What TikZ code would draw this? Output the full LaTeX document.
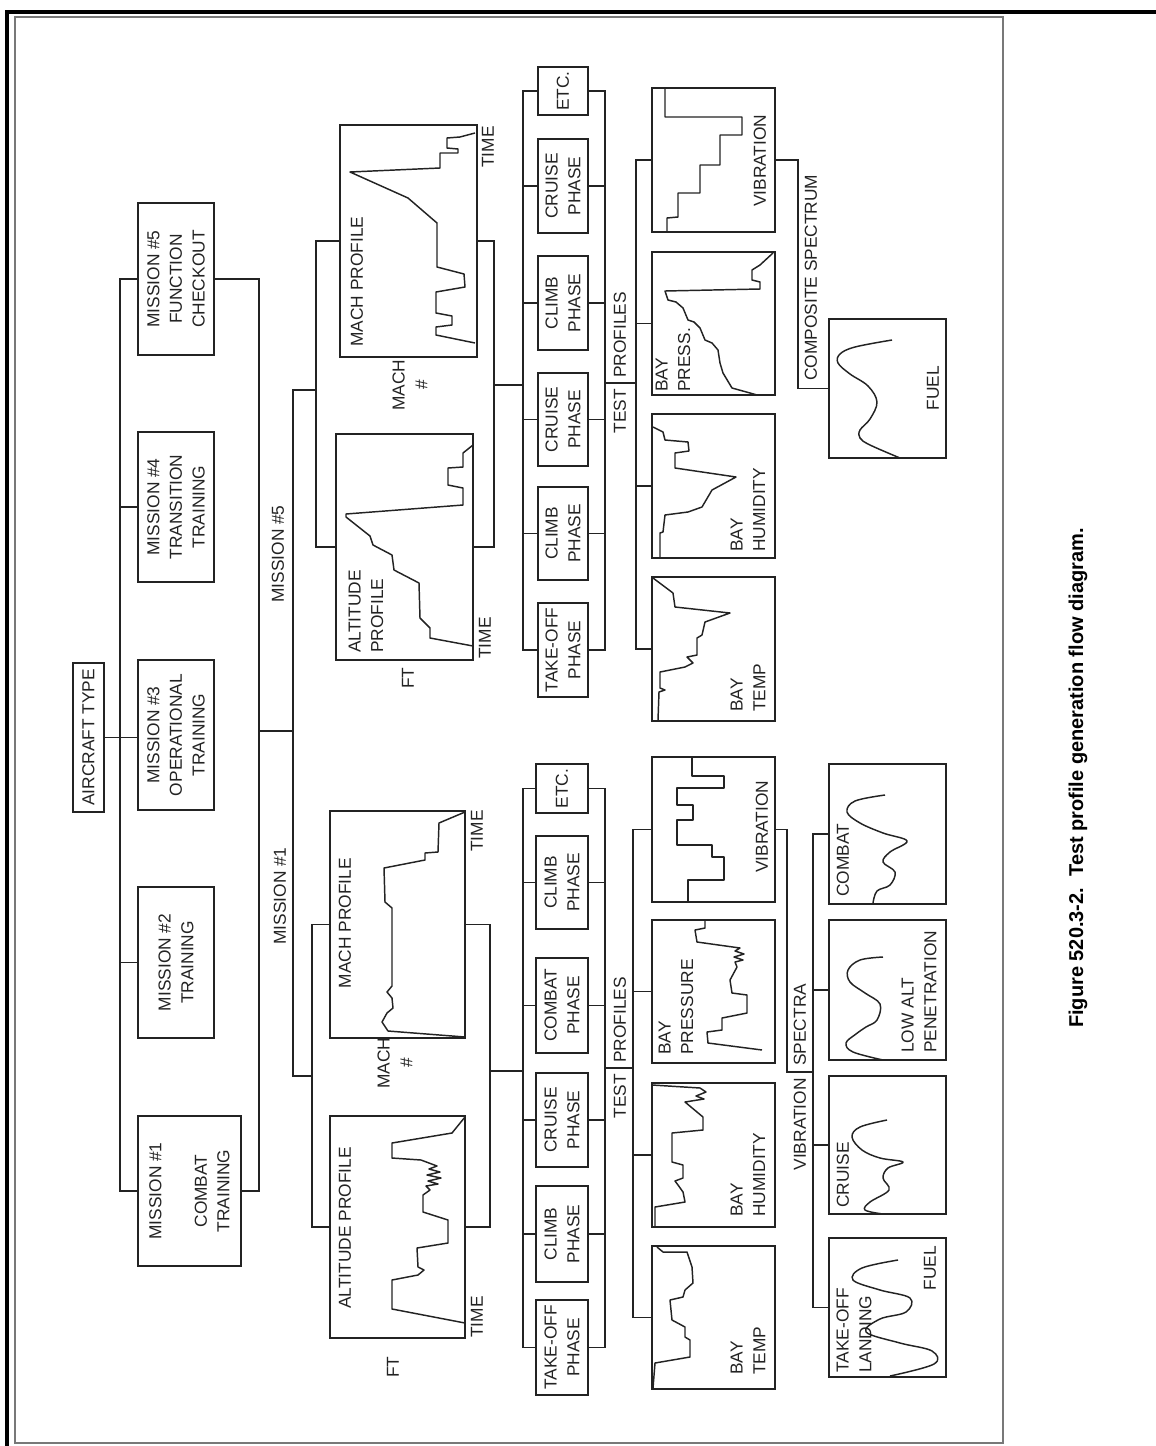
\documentclass[tikz,border=0pt]{standalone}
\usepackage{fontspec}
\setmainfont{Liberation Sans}
\usetikzlibrary{fit,calc,positioning}
\definecolor{inkgray}{RGB}{35,35,35}
\definecolor{framegray}{RGB}{120,120,120}

\begin{document}
\begin{tikzpicture}[x=0.75pt, y=-0.75pt, font=\fontsize{13}{17}\selectfont,
  blk/.style={draw=inkgray, line width=1.4pt, inner sep=0pt},
  txt/.style={rotate=90, inner sep=0pt, align=center, text=inkgray},
  wire/.style={draw=inkgray, line width=1.2pt},
  trace/.style={draw=inkgray, line width=1.1pt, line join=round}]
\useasboundingbox (0,0) rectangle (1156,1446);
% page frame
\draw[line width=3.5pt] (1156,12) -- (7,12) -- (7,1446);
\draw[framegray, line width=1pt] (15,17) rectangle (1003,1443);

% Missions
\node[blk, fit={(73,663) (104,812)}] (act) {};
\node[blk, fit={(138,203) (214,355)}] (m5) {};
\node[blk, fit={(138,432) (214,582)}] (m4) {};
\node[blk, fit={(138,660) (214,810)}] (m3) {};
\node[blk, fit={(138,887) (214,1038)}] (m2) {};
\node[blk, fit={(138,1116) (241,1266)}] (m1) {};
\node[txt] (actt) at (act) {AIRCRAFT TYPE};
\node[txt] (m5t) at (m5) {MISSION \#5\\FUNCTION\\CHECKOUT};
\node[txt] (m4t) at (m4) {MISSION \#4\\TRANSITION\\TRAINING};
\node[txt] (m3t) at (m3) {MISSION \#3\\OPERATIONAL\\TRAINING};
\node[txt] (m2t) at (m2) {MISSION \#2\\TRAINING};
\node[txt] (m1t) at (m1) {MISSION \#1\\[17pt]COMBAT\\TRAINING};
\coordinate (spine) at (120,0);
\coordinate (trunk) at (259,0);
\draw[wire] (m5.west) -- (m5.west -| spine) -- (m1.west -| spine) -- (m1.west);
\draw[wire] (m4.west) -- (m4.west -| spine);
\draw[wire] (m2.west) -- (m2.west -| spine);
\draw[wire] (act.east) -- (act.east -| m3.west);
\draw[wire] (m5.east) -- (m5.east -| trunk) -- (m1.east -| trunk) -- (m1.east);
% split to mission #5 / #1
\coordinate (split) at (259,731);
\coordinate (b5) at (316,390);
\coordinate (b1) at (312,1076);
\draw[wire] (split) -- ++(34,0);
\draw[wire] (b5) -- ++(-23,0) |- (b1);
\node[txt] (lm5) at (278,554) {MISSION \#5};
\node[txt] (lm1) at (280,896) {MISSION \#1};

% Mission #5 profiles
\node[blk, fit={(340,125) (477,357)}] (mach5) {};
\node[blk, fit={(336,434) (473,660)}] (alt5) {};
\draw[wire] (mach5.west) -- (mach5.west -| b5) -- (alt5.west -| b5) -- (alt5.west);
\draw[wire] (mach5.east) -- ++(16,0) |- (alt5.east);
\node[txt, anchor=west] (mach5t) at (357,347) {MACH PROFILE};
\node[txt] (mach5x) at (488,147) {TIME};
\node[txt] (mach5y) at (410,385) {MACH\\\#};
\node[txt, anchor=west, align=left] (alt5t) at (366,653) {ALTITUDE\\PROFILE};
\node[txt] (alt5x) at (485,638) {TIME};
\node[txt] (alt5y) at (408,678) {FT};
\draw[trace] (475,133) -- (460,137) -- (447,138) -- (447,148) -- (458,149) -- (458,153) -- (440,153) -- (440,168)
  -- (350,172) -- (408,198) -- (437,223) -- (437,267) -- (464,274) -- (465,287) -- (436,292) -- (436,313)
  -- (452,316) -- (452,325) -- (436,327) -- (436,335) -- (475,343);
\draw[trace] (473,646) -- (430,638) -- (430,628) -- (420,618) -- (419,583) -- (394,570) -- (392,555) -- (373,545)
  -- (370,536) -- (346,517) -- (346,514) -- (463,505) -- (463,488) -- (448,485) -- (448,468) -- (463,467)
  -- (463,453) -- (473,445);

% Mission #5 phases
\coordinate (pl5) at (523,0);
\coordinate (pr5) at (605,0);
\node[blk, fit={(538,67) (588,115)}] (etc5) {};
\node[blk, fit={(538,139) (588,233)}] (cr5b) {};
\node[blk, fit={(538,256) (588,350)}] (cl5b) {};
\node[blk, fit={(538,373) (588,466)}] (cr5a) {};
\node[blk, fit={(538,487) (588,580)}] (cl5a) {};
\node[blk, fit={(538,603) (588,697)}] (to5) {};
\node[txt] (etc5t) at (etc5) {ETC.};
\node[txt] (cr5bt) at (cr5b) {CRUISE\\PHASE};
\node[txt] (cl5bt) at (cl5b) {CLIMB\\PHASE};
\node[txt] (cr5at) at (cr5a) {CRUISE\\PHASE};
\node[txt] (cl5at) at (cl5a) {CLIMB\\PHASE};
\node[txt] (to5t) at (to5) {TAKE-OFF\\PHASE};
\coordinate (p5) at (493,385);
\draw[wire] (p5) -- (p5 -| pl5);
\draw[wire] (etc5.west) -- (etc5.west -| pl5) -- (to5.west -| pl5) -- (to5.west);
\draw[wire] (etc5.east) -- (etc5.east -| pr5) -- (to5.east -| pr5) -- (to5.east);
\foreach \b in {cr5b,cl5b,cr5a,cl5a} {
  \draw[wire] (\b.west) -- (\b.west -| pl5);
  \draw[wire] (\b.east) -- (\b.east -| pr5);
}
\coordinate (t5) at (605,383);
\coordinate (d5) at (636,0);
\draw[wire] (t5) -- (t5 -| d5);
\node[txt, anchor=west] (prof5) at (620,378) {PROFILES};
\node[txt, anchor=east] (test5) at (620,389) {TEST};

% Mission #5 test profiles
\node[blk, fit={(652,88) (775,232)}] (vib5) {};
\node[blk, fit={(652,252) (775,395)}] (pr5) {};
\node[blk, fit={(652,414) (775,558)}] (hum5) {};
\node[blk, fit={(652,577) (775,721)}] (tmp5) {};
\draw[wire] (vib5.west) -- (vib5.west -| d5) -- (tmp5.west -| d5) -- (tmp5.west);
\draw[wire] (pr5.west) -- (pr5.west -| d5);
\draw[wire] (hum5.west) -- (hum5.west -| d5);
\node[txt, anchor=west] (vib5t) at (760,207) {VIBRATION};
\node[txt, anchor=west, align=left] (pr5t) at (673,392) {BAY\\PRESS.};
\node[txt, anchor=west, align=left] (hum5t) at (748,552) {BAY\\HUMIDITY};
\node[txt, anchor=west, align=left] (tmp5t) at (748,712) {BAY\\TEMP};
\draw[trace] (667,232) -- (667,218) -- (678,217) -- (678,193) -- (700,193) -- (700,165) -- (720,165) -- (720,135)
  -- (742,135) -- (742,117) -- (665,117) -- (665,89);
\draw[trace] (773,253) -- (760,265) -- (752,270) -- (752,280) -- (760,282) -- (760,289) -- (665,291) -- (668,300)
  -- (676,302) -- (683,308) -- (688,320) -- (694,322) -- (700,328) -- (705,340) -- (712,343) -- (718,350)
  -- (720,363) -- (723,373) -- (732,388) -- (750,393) -- (757,395);
\draw[trace] (653,427) -- (663,432) -- (665,440) -- (688,442) -- (689,451) -- (675,453) -- (675,468) -- (736,477)
  -- (712,490) -- (702,507) -- (688,512) -- (665,515) -- (663,532) -- (660,533) -- (660,557);
\draw[trace] (653,578) -- (673,593) -- (675,607) -- (730,613) -- (705,622) -- (702,635) -- (697,638) -- (697,655)
  -- (687,657) -- (693,663) -- (685,667) -- (660,672) -- (660,688) -- (665,690) -- (659,692) -- (658,720);
% composite spectrum
\node[blk, fit={(829,319) (946,458)}] (fuel5) {};
\draw[wire] (vib5.east) -- ++(22,0) |- (fuel5.west);
\node[txt, anchor=west] (comp5) at (811,381) {COMPOSITE SPECTRUM};
\node[txt] (fuel5t) at (933,388) {FUEL};
\draw[trace] plot[smooth, tension=0.6] coordinates {(892,340) (855,347) (840,354) (838,363) (850,374) (868,386)
  (877,402) (870,419) (860,430) (860,438) (870,445) (900,458)};

% Mission #1 profiles
\node[blk, fit={(330,811) (465,1038)}] (mach1) {};
\node[blk, fit={(330,1116) (465,1338)}] (alt1) {};
\draw[wire] (mach1.west) -- (mach1.west -| b1) -- (alt1.west -| b1) -- (alt1.west);
\draw[wire] (mach1.east) -- ++(24,0) |- (alt1.east);
\node[txt] (mach1t) at (345,923) {MACH PROFILE};
\node[txt] (mach1x) at (477,831) {TIME};
\node[txt] (mach1y) at (395,1063) {MACH\\\#};
\node[txt] (alt1t) at (345,1228) {ALTITUDE PROFILE};
\node[txt] (alt1x) at (477,1317) {TIME};
\node[txt] (alt1y) at (393,1367) {FT};
\draw[trace] (465,1037) -- (388,1031) -- (382,1022) -- (387,1013) -- (393,1008) -- (392,998) -- (387,992)
  -- (392,986) -- (392,908) -- (385,902) -- (384,868) -- (425,860) -- (425,853) -- (438,852) -- (439,823)
  -- (465,812);
\draw[trace] (465,1323) -- (392,1309) -- (392,1280) -- (418,1275) -- (424,1270) -- (418,1267) -- (417,1248)
  -- (448,1243) -- (448,1220) -- (423,1212) -- (423,1195) -- (430,1190) -- (426,1186) -- (438,1184)
  -- (428,1181) -- (441,1178) -- (427,1175) -- (440,1172) -- (429,1169) -- (437,1166) -- (421,1160)
  -- (392,1158) -- (392,1143) -- (452,1133) -- (465,1117);

% Mission #1 phases
\coordinate (pl1) at (523,0);
\coordinate (pr1) at (605,0);
\node[blk, fit={(536,764) (588,813)}] (etc1) {};
\node[blk, fit={(536,836) (588,929)}] (cl1b) {};
\node[blk, fit={(536,958) (588,1053)}] (cb1) {};
\node[blk, fit={(536,1073) (588,1167)}] (cr1) {};
\node[blk, fit={(536,1186) (588,1282)}] (cl1a) {};
\node[blk, fit={(536,1300) (588,1395)}] (to1) {};
\node[txt] (etc1t) at (etc1) {ETC.};
\node[txt] (cl1bt) at (cl1b) {CLIMB\\PHASE};
\node[txt] (cb1t) at (cb1) {COMBAT\\PHASE};
\node[txt] (cr1t) at (cr1) {CRUISE\\PHASE};
\node[txt] (cl1at) at (cl1a) {CLIMB\\PHASE};
\node[txt] (to1t) at (to1) {TAKE-OFF\\PHASE};
\coordinate (p1) at (489,1071);
\draw[wire] (p1) -- (p1 -| pl1);
\draw[wire] (etc1.west) -- (etc1.west -| pl1) -- (to1.west -| pl1) -- (to1.west);
\draw[wire] (etc1.east) -- (etc1.east -| pr1) -- (to1.east -| pr1) -- (to1.east);
\foreach \b in {cl1b,cb1,cr1,cl1a} {
  \draw[wire] (\b.west) -- (\b.west -| pl1);
  \draw[wire] (\b.east) -- (\b.east -| pr1);
}
\coordinate (t1) at (605,1068);
\coordinate (d1) at (633,0);
\draw[wire] (t1) -- (t1 -| d1);
\node[txt, anchor=west] (prof1) at (620,1063) {PROFILES};
\node[txt, anchor=east] (test1) at (620,1074) {TEST};

% Mission #1 test profiles
\node[blk, fit={(652,757) (775,902)}] (vib1) {};
\node[blk, fit={(652,920) (775,1063)}] (pr1) {};
\node[blk, fit={(652,1083) (775,1227)}] (hum1) {};
\node[blk, fit={(652,1246) (775,1389)}] (tmp1) {};
\draw[wire] (vib1.west) -- (vib1.west -| d1) -- (tmp1.west -| d1) -- (tmp1.west);
\draw[wire] (pr1.west) -- (pr1.west -| d1);
\draw[wire] (hum1.west) -- (hum1.west -| d1);
\node[txt, anchor=west] (vib1t) at (762,873) {VIBRATION};
\node[txt, anchor=west, align=left] (pr1t) at (676,1055) {BAY\\PRESSURE};
\node[txt, anchor=west, align=left] (hum1t) at (748,1217) {BAY\\HUMIDITY};
\node[txt, anchor=west, align=left] (tmp1t) at (748,1375) {BAY\\TEMP};
\draw[trace] (692,758) -- (692,776) -- (724,776) -- (724,788) -- (677,788) -- (677,805) -- (693,805) -- (693,820)
  -- (677,820) -- (677,845) -- (712,845) -- (712,857) -- (724,857) -- (724,880) -- (688,880) -- (688,902);
\draw[trace] (762,1050) -- (708,1043) -- (707,1032) -- (722,1030) -- (722,1018) -- (747,1013) -- (747,995)
  -- (732,993) -- (730,980) -- (737,967) -- (735,962) -- (743,960) -- (734,957) -- (744,954) -- (735,951)
  -- (740,948) -- (697,942) -- (695,930) -- (705,928) -- (705,921);
\draw[trace] (652,1085) -- (700,1088) -- (706,1092) -- (696,1096) -- (704,1099) -- (685,1102) -- (703,1117)
  -- (703,1130) -- (672,1133) -- (672,1162) -- (683,1165) -- (683,1178) -- (675,1181) -- (678,1185)
  -- (683,1192) -- (685,1202) -- (655,1207) -- (655,1227);
\draw[trace] (657,1247) -- (663,1252) -- (687,1252) -- (692,1267) -- (693,1283) -- (685,1290) -- (683,1297)
  -- (670,1300) -- (672,1320) -- (685,1327) -- (685,1337) -- (690,1340) -- (690,1357) -- (655,1363)
  -- (653,1388);

% Mission #1 vibration spectra
\coordinate (s1) at (787,1072);
\coordinate (sp1) at (813,0);
\draw[wire] (vib1.east) -| (s1) -- (s1 -| sp1);
\node[txt, anchor=west] (spec1) at (800,1066) {SPECTRA};
\node[txt, anchor=east] (vibr1) at (800,1078) {VIBRATION};
\node[blk, fit={(829,764) (946,904)}] (cmb1) {};
\node[blk, fit={(829,920) (946,1060)}] (low1) {};
\node[blk, fit={(829,1076) (946,1214)}] (cru1) {};
\node[blk, fit={(829,1238) (946,1377)}] (fl1) {};
\draw[wire] (cmb1.west) -- (cmb1.west -| sp1) -- (fl1.west -| sp1) -- (fl1.west);
\draw[wire] (low1.west) -- (low1.west -| sp1);
\draw[wire] (cru1.west) -- (cru1.west -| sp1);
\node[txt, anchor=west] (cmb1t) at (843,897) {COMBAT};
\node[txt, anchor=west, align=left] (low1t) at (919,1053) {LOW ALT\\PENETRATION};
\node[txt, anchor=west] (cru1t) at (843,1208) {CRUISE};
\node[txt, anchor=west, align=left] (fl1t) at (854,1373) {TAKE-OFF\\LANDING};
\node[txt] (fl1f) at (930,1268) {FUEL};
\draw[trace] plot[smooth, tension=0.6] coordinates {(885,795) (855,801) (847,812) (860,823) (883,833) (907,841)
  (890,852) (883,862) (895,872) (890,885) (877,891) (873,903)};
\draw[trace] plot[smooth, tension=0.6] coordinates {(883,957) (860,960) (848,970) (850,982) (865,993) (880,1004)
  (877,1020) (866,1027) (856,1034) (846,1043) (853,1052) (883,1060)};
\draw[trace] plot[smooth, tension=0.6] coordinates {(887,1120) (860,1127) (852,1137) (862,1150) (880,1158)
  (903,1162) (888,1168) (883,1178) (889,1190) (870,1202) (865,1210) (883,1214)};
\draw[trace] plot[smooth, tension=0.6] coordinates {(898,1260) (862,1268) (853,1280) (880,1290) (910,1298)
  (906,1312) (880,1319) (866,1332) (900,1343) (932,1351) (934,1364) (890,1376)};

% caption
\node[rotate=90, font=\fontsize{15}{18}\selectfont\bfseries, inner sep=0pt] (cap) at (1078,778)
  {Figure 520.3-2.\ \ Test profile generation flow diagram.};
\end{tikzpicture}
\end{document}
